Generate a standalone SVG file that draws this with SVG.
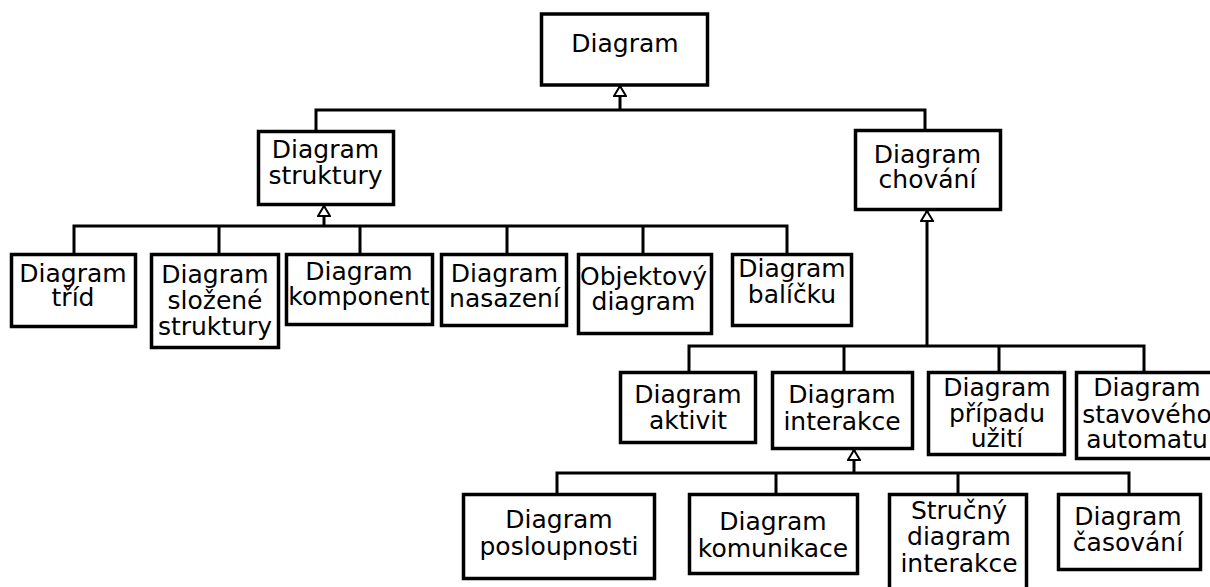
<svg xmlns="http://www.w3.org/2000/svg" width="1210" height="587" viewBox="0 0 1210 587">
  <style>
    .box { fill: #ffffff; stroke: #000000; stroke-width: 3.5; }
    .lbl { font-family: "DejaVu Sans", "Liberation Sans", sans-serif; font-size: 25px; fill: #000000; text-anchor: middle; }
    .wire { fill: none; stroke: #000000; stroke-width: 3; }
    .gen { fill: none; stroke: #000000; stroke-width: 3; marker-end: url(#hollow); }
  </style>
  <defs>
    <!-- UML generalisation: hollow triangle -->
    <marker id="hollow" viewBox="0 0 12 14" refX="11" refY="7" markerWidth="12" markerHeight="14" markerUnits="userSpaceOnUse" orient="auto">
      <path d="M1,1 L11,7 L1,13 Z" fill="#ffffff" stroke="#000000" stroke-width="2"/>
    </marker>
  </defs>

  <rect width="1210" height="587" fill="#ffffff"/>

  <!-- connectors -->
  <g id="connectors">
    <!-- Diagram -> structure / behaviour -->
    <path class="gen" d="M620,110 V86"/>
    <path class="wire" d="M316,130 V110 H925 V130"/>
    <!-- structure diagrams -->
    <path class="gen" d="M324,226 V206"/>
    <path class="wire" d="M74,253 V226 H787 V253 M219,226 V253 M360,226 V253 M507,226 V253 M643,226 V253"/>
    <!-- behaviour diagrams -->
    <path class="gen" d="M927,346 V211"/>
    <path class="wire" d="M689,371 V346 H1144 V371 M844,346 V371 M999,346 V371"/>
    <!-- interaction diagrams -->
    <path class="gen" d="M854,473 V450"/>
    <path class="wire" d="M557,493 V473 H1129 V493 M776,473 V493 M958,473 V493"/>
  </g>

  <g id="diagram">
    <rect class="box" x="541.5" y="14" width="166" height="71"/>
    <text class="lbl" x="625" y="52">Diagram</text>
  </g>

  <g id="structure">
    <rect class="box" x="258.5" y="131.5" width="135" height="73"/>
    <text class="lbl" x="325.5" y="158">Diagram</text>
    <text class="lbl" x="325.5" y="184">struktury</text>
  </g>

  <g id="behaviour">
    <rect class="box" x="855.5" y="130.5" width="145" height="79"/>
    <text class="lbl" x="927.5" y="163">Diagram</text>
    <text class="lbl" x="927.5" y="188">chování</text>
  </g>

  <g id="class">
    <rect class="box" x="11.5" y="254.5" width="124" height="72"/>
    <text class="lbl" x="73" y="282">Diagram</text>
    <text class="lbl" x="73" y="306">tříd</text>
  </g>

  <g id="composite">
    <rect class="box" x="151.5" y="254.5" width="127" height="93"/>
    <text class="lbl" x="215" y="283">Diagram</text>
    <text class="lbl" x="215" y="309">složené</text>
    <text class="lbl" x="215" y="335">struktury</text>
  </g>

  <g id="component">
    <rect class="box" x="286.5" y="254.5" width="146" height="70"/>
    <text class="lbl" x="359" y="280">Diagram</text>
    <text class="lbl" x="359" y="305">komponent</text>
  </g>

  <g id="deployment">
    <rect class="box" x="441.5" y="254.5" width="125" height="71"/>
    <text class="lbl" x="504.5" y="282">Diagram</text>
    <text class="lbl" x="504.5" y="307">nasazení</text>
  </g>

  <g id="object">
    <rect class="box" x="578.5" y="254.5" width="133" height="79"/>
    <text class="lbl" x="643.5" y="285">Objektový</text>
    <text class="lbl" x="643.5" y="310">diagram</text>
  </g>

  <g id="package">
    <rect class="box" x="732.5" y="254.5" width="119" height="71"/>
    <text class="lbl" x="792" y="277">Diagram</text>
    <text class="lbl" x="792" y="303">balíčku</text>
  </g>

  <g id="activity">
    <rect class="box" x="620.5" y="372.5" width="135" height="70"/>
    <text class="lbl" x="688" y="403">Diagram</text>
    <text class="lbl" x="688" y="429">aktivit</text>
  </g>

  <g id="interaction">
    <rect class="box" x="772.5" y="372.5" width="140" height="76"/>
    <text class="lbl" x="842" y="403">Diagram</text>
    <text class="lbl" x="842" y="430">interakce</text>
  </g>

  <g id="use-case">
    <rect class="box" x="928.5" y="372.5" width="136" height="82"/>
    <text class="lbl" x="997" y="396">Diagram</text>
    <text class="lbl" x="997" y="422">případu</text>
    <text class="lbl" x="997" y="447">užití</text>
  </g>

  <g id="state-machine">
    <rect class="box" x="1076.5" y="372.5" width="150" height="86"/>
    <text class="lbl" x="1147" y="396">Diagram</text>
    <text class="lbl" x="1147" y="423">stavového</text>
    <text class="lbl" x="1147" y="448">automatu</text>
  </g>

  <g id="sequence">
    <rect class="box" x="463.5" y="494.5" width="191" height="84"/>
    <text class="lbl" x="559" y="528">Diagram</text>
    <text class="lbl" x="559" y="555">posloupnosti</text>
  </g>

  <g id="communication">
    <rect class="box" x="689.5" y="494.5" width="168" height="79"/>
    <text class="lbl" x="773" y="530">Diagram</text>
    <text class="lbl" x="773" y="557">komunikace</text>
  </g>

  <g id="interaction-overview">
    <rect class="box" x="889.5" y="494.5" width="137" height="110"/>
    <text class="lbl" x="959" y="519">Stručný</text>
    <text class="lbl" x="959" y="545">diagram</text>
    <text class="lbl" x="959" y="572">interakce</text>
  </g>

  <g id="timing">
    <rect class="box" x="1058.5" y="494.5" width="142" height="75"/>
    <text class="lbl" x="1128" y="525">Diagram</text>
    <text class="lbl" x="1128" y="551">časování</text>
  </g>
</svg>
